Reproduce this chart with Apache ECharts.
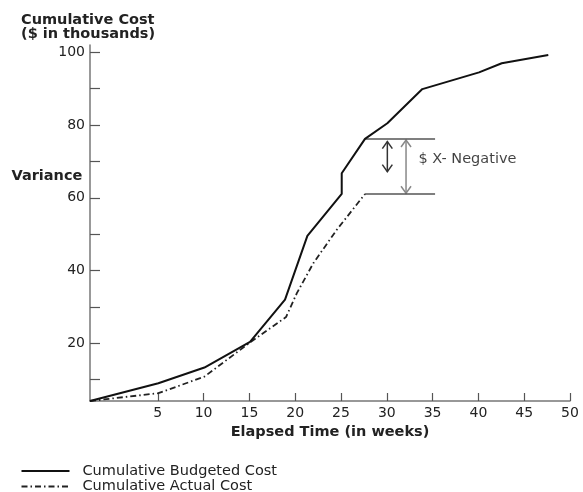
<!DOCTYPE html>
<html>
<head>
<meta charset="utf-8">
<script src="https://cdn.jsdelivr.net/npm/echarts@6/dist/echarts.min.js"></script>
<style>html,body{margin:0;padding:0;background:#fff}#c{width:583px;height:492px}</style>
</head>
<body>
<div id="c"></div>
<script>
// ---- data ----
const budgetWeeks = [-2.4, 5.06, 10.09, 15.07, 18.89, 21.33, 25.08, 25.08, 27.62, 30.06, 33.88, 40.07, 42.55, 47.63];
const budgetCost  = [4.1, 9.0, 13.3, 20.35, 32.0, 49.5, 61.05, 66.75, 76.2, 80.5, 89.9, 94.5, 97.0, 99.3];
const actualWeeks = [-2.4, 5.06, 10.09, 15.07, 19.0, 20.17, 21.98, 24.54, 27.62];
const actualCost  = [4.1, 6.24, 10.8, 20.2, 27.2, 33.7, 42.0, 51.2, 61.05];
const xTickValues = [5, 10, 15, 20, 25, 30, 35, 40, 45, 50];
const yTickValues = [10, 20, 30, 40, 50, 60, 70, 80, 90, 100];
const yLabelValues = [20, 40, 60, 80, 100];
const varianceLevels = [76.2, 61.05];
const varianceSpan = [27.62, 35.27];
const arrowWeeks = [30.06, 32.1];
const arrowFrom = [75.44, 75.9];
const arrowTo = [67.19, 61.25];
const varianceText = '$ X- Negative';
const varianceTextPos = [33.45, 70.7];
const seriesNames = ['Cumulative Budgeted Cost', 'Cumulative Actual Cost'];

const FONT = 'DejaVu Sans';
const zip = (a, b) => a.map((v, i) => [v, b[i]]);
const arrowColors = ['#333', '#888'];

const chart = echarts.init(document.getElementById('c'), null, {renderer: 'canvas'});
chart.setOption({
  animation: false,
  backgroundColor: '#fff',
  title: [
    {text: 'Cumulative Cost\n($ in thousands)', left: 21, top: 12.5, padding: 0,
     textStyle: {fontFamily: FONT, fontSize: 14.5, fontWeight: 'bold', color: '#222', lineHeight: 14.5}},
    {text: 'Variance', left: 11.5, top: 169, padding: 0,
     textStyle: {fontFamily: FONT, fontSize: 14.5, fontWeight: 'bold', color: '#222'}}
  ],
  legend: {
    data: seriesNames, orient: 'vertical', left: 20.5, top: 463.5, height: 60, padding: 0,
    itemWidth: 48, itemHeight: 14, itemGap: 0.6,
    itemStyle: {opacity: 0},
    textStyle: {fontFamily: FONT, fontSize: 14.5, color: '#222', padding: [0, 0, 0, 8]}
  },
  grid: {left: 90, right: 13, top: 45.1, bottom: 91, containLabel: false},
  xAxis: {
    type: 'value', min: -2.4, max: 50,
    name: 'Elapsed Time (in weeks)', nameLocation: 'middle', nameGap: 20.5,
    nameTextStyle: {fontFamily: FONT, fontSize: 14.5, fontWeight: 'bold', color: '#222'},
    axisLine: {show: true, onZero: false, lineStyle: {color: '#777', width: 1.5}},
    axisTick: {show: true, inside: true, length: 8, customValues: xTickValues, lineStyle: {color: '#555', width: 1.2}},
    axisLabel: {show: true, margin: 5, customValues: xTickValues, fontFamily: FONT, fontSize: 14, color: '#222'},
    splitLine: {show: false}
  },
  yAxis: {
    type: 'value', min: 4.1, max: 102,
    axisLine: {show: true, onZero: false, lineStyle: {color: '#777', width: 1.5}},
    axisTick: {show: true, inside: true, length: 10, customValues: yTickValues, lineStyle: {color: '#555', width: 1.2}},
    axisLabel: {show: true, margin: 5, customValues: yLabelValues, fontFamily: FONT, fontSize: 14, color: '#222'},
    splitLine: {show: false}
  },
  series: [
    {name: seriesNames[0], type: 'line', data: zip(budgetWeeks, budgetCost), symbol: 'none',
     lineStyle: {color: '#111', width: 2}, itemStyle: {color: '#111'}, z: 5},
    {name: seriesNames[1], type: 'line', data: zip(actualWeeks, actualCost), symbol: 'none',
     lineStyle: {color: '#222', width: 1.8, type: [6, 3, 1.5, 3]}, itemStyle: {color: '#222'}, z: 4},
    {name: 'varTop', type: 'line', data: varianceSpan.map(x => [x, varianceLevels[0]]), symbol: 'none',
     lineStyle: {color: '#555', width: 1.5}, silent: true},
    {name: 'varBottom', type: 'line', data: varianceSpan.map(x => [x, varianceLevels[1]]), symbol: 'none',
     lineStyle: {color: '#555', width: 1.5}, silent: true},
    {name: 'arrows', type: 'custom', silent: true, clip: false,
     data: arrowWeeks.map((x, i) => [x, arrowFrom[i], arrowTo[i], i]),
     encode: {x: 0, y: [1, 2]},
     renderItem: function (params, api) {
       const a = api.coord([api.value(0), api.value(1)]);
       const b = api.coord([api.value(0), api.value(2)]);
       const col = arrowColors[api.value(3)];
       const w = 5, h = 7;
       const st = {stroke: col, lineWidth: 1.5, fill: null};
       return {type: 'group', children: [
         {type: 'line', shape: {x1: a[0], y1: a[1], x2: b[0], y2: b[1]}, style: st},
         {type: 'polyline', shape: {points: [[a[0] - w, a[1] + h], [a[0], a[1]], [a[0] + w, a[1] + h]]}, style: st},
         {type: 'polyline', shape: {points: [[b[0] - w, b[1] - h], [b[0], b[1]], [b[0] + w, b[1] - h]]}, style: st}
       ]};
     }},
    {name: 'varText', type: 'scatter', data: [varianceTextPos], symbolSize: 0.1, silent: true,
     itemStyle: {color: 'transparent'},
     label: {show: true, position: 'right', distance: 0, formatter: varianceText,
             fontFamily: FONT, fontSize: 14.5, color: '#111'}}
  ]
});
</script>
</body>
</html>
